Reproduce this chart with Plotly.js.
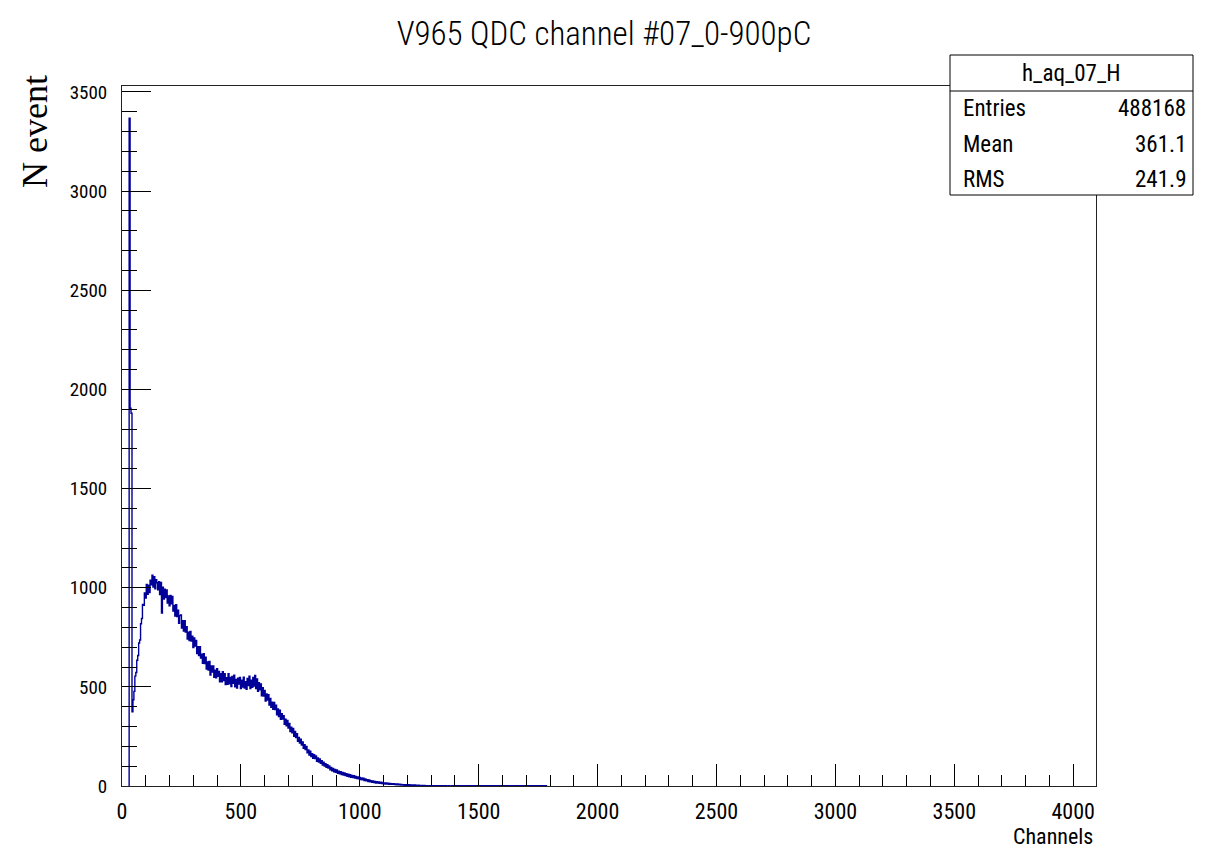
<!DOCTYPE html>
<html>
<head>
<meta charset="utf-8">
<script src="https://cdn.plot.ly/plotly-3.0.1.min.js"></script>
<style>
  html, body { margin: 0; padding: 0; background: #fff; }
  #plot { width: 1208px; height: 850px; }
</style>
</head>
<body>
<div id="plot"></div>
<script>
// QDC spectrum, channel 07 (0-900 pC range): counts sampled every 4 channels
const binStart = 28;
const binWidth = 4;
const counts = [
  0, 3367, 1905, 1880, 374, 435, 477, 554,
  572, 634, 658, 721, 736, 818, 845, 915,
  911, 974, 948, 1016, 967, 1013, 975, 1038,
  1014, 1063, 1003, 1055, 994, 1040, 1025, 989,
  1030, 966, 1027, 872, 1002, 943, 993, 950,
  989, 923, 959, 909, 961, 919, 956, 882,
  911, 857, 914, 854, 886, 821, 859, 863,
  796, 834, 782, 833, 776, 803, 741, 775,
  733, 780, 731, 756, 698, 747, 706, 734,
  668, 702, 658, 703, 645, 665, 619, 667,
  617, 649, 590, 625, 585, 628, 560, 606,
  575, 605, 548, 584, 546, 591, 553, 578,
  525, 566, 526, 576, 532, 566, 512, 546,
  513, 566, 516, 548, 502, 553, 518, 559,
  500, 537, 494, 543, 514, 547, 492, 534,
  499, 549, 494, 526, 488, 542, 506, 554,
  492, 534, 498, 548, 504, 557, 491, 540,
  478, 521, 485, 514, 455, 496, 454, 482,
  429, 464, 434, 460, 408, 441, 397, 423,
  387, 421, 385, 407, 359, 388, 350, 382,
  336, 364, 337, 355, 311, 337, 303, 330,
  292, 316, 275, 297, 268, 290, 251, 275,
  244, 264, 226, 245, 216, 236, 206, 222,
  190, 208, 184, 200, 168, 182, 156, 175,
  149, 163, 140, 158, 138, 151, 125, 142,
  121, 136, 115, 128, 106, 120, 101, 112,
  94, 108, 91, 101, 82, 93, 77, 89,
  72, 83, 69, 81, 64, 75, 62, 72,
  58, 68, 55, 66, 53, 62, 49, 59,
  47, 57, 44, 53, 42, 52, 40, 48,
  37, 46, 36, 43, 33, 40, 31, 39,
  27, 35, 26, 32, 23, 30, 21, 27,
  19, 25, 18, 23, 15, 22, 15, 20,
  13, 19, 12, 18, 11, 16, 10, 16,
  10, 14, 9, 13, 8, 12, 8, 11,
  7, 10, 6, 10, 6, 9, 5, 8,
  5, 7, 4, 7, 4, 6, 3, 6,
  3, 5, 3, 5, 2, 5, 2, 4,
  2, 4, 1, 3, 2, 3, 1, 3,
  1, 2, 1, 2, 0, 2, 1, 1,
  2, 0, 1, 1, 0, 2, 0, 1,
  0, 1, 1, 0, 1, 0, 1, 0,
  0, 1, 0
];
// isolated single counts further out
const tailChannels = [1396, 1420, 1444, 1468, 1500, 1788];
const tailCounts   = [1, 1, 1, 1, 1, 1];

// statistics box contents
const histName = 'h_aq_07_H';
const statLabels = ['Entries', 'Mean', 'RMS'];
const statValues = ['488168', '361.1', '241.9'];

const titleText = 'V965 QDC channel #07_0-900pC';
const xTitleText = 'Channels';
const yTitleText = 'N event';

const channels = counts.map((_, i) => binStart + i * binWidth).concat(tailChannels);
const values = counts.concat(tailCounts);

const sans = '"Roboto Condensed", "DejaVu Sans Condensed", "Liberation Sans", sans-serif';
const serif = '"Liberation Serif", "Times New Roman", serif';

// plot frame in page pixels
const frameL = 122, frameT = 86, frameW = 974, frameH = 700;
const px = x => (x - frameL) / frameW;
const py = y => (frameT + frameH - y) / frameH;

const trace = {
  type: 'scatter',
  mode: 'lines',
  x: channels,
  y: values,
  line: { color: '#000099', width: 1.4, shape: 'hvh' },
  hoverinfo: 'skip'
};

const boxL = 950, boxR = 1193, boxT = 55, boxB = 195, boxSep = 91;
const rowY = [108, 144, 179];

const shapes = [
  { type: 'rect', xref: 'paper', yref: 'paper', layer: 'above',
    x0: px(boxL), x1: px(boxR), y0: py(boxB), y1: py(boxT),
    line: { color: '#000', width: 1 }, fillcolor: '#fff' },
  { type: 'line', xref: 'paper', yref: 'paper', layer: 'above',
    x0: px(boxL), x1: px(boxR), y0: py(boxSep), y1: py(boxSep),
    line: { color: '#000', width: 1 } }
];

const sansFont = (size, weight) => ({ family: sans, size: size, color: '#000', weight: weight || 400 });

const annotations = [
  { xref: 'paper', yref: 'paper', x: px((boxL + boxR) / 2), y: py(73),
    xanchor: 'center', yanchor: 'middle', showarrow: false,
    text: histName, font: sansFont(23) },
  { xref: 'paper', yref: 'paper', x: px(1095), y: py(836),
    xanchor: 'right', yanchor: 'middle', showarrow: false,
    text: xTitleText, font: sansFont(22) },
  { xref: 'paper', yref: 'paper', x: px(35), y: py(132),
    xanchor: 'center', yanchor: 'middle', showarrow: false, textangle: -90,
    text: yTitleText, font: { family: serif, size: 36, color: '#000' } }
];
statLabels.forEach((lab, i) => {
  annotations.push({ xref: 'paper', yref: 'paper', x: px(961), y: py(rowY[i]),
    xanchor: 'left', yanchor: 'middle', showarrow: false,
    text: lab, font: sansFont(23) });
  annotations.push({ xref: 'paper', yref: 'paper', x: px(1188), y: py(rowY[i]),
    xanchor: 'right', yanchor: 'middle', showarrow: false,
    text: statValues[i], font: sansFont(23) });
});

const layout = {
  width: 1208,
  height: 850,
  margin: { l: frameL, r: 1208 - frameL - frameW, t: frameT, b: 850 - frameT - frameH, pad: 0 },
  paper_bgcolor: '#fff',
  plot_bgcolor: '#fff',
  showlegend: false,
  title: {
    text: titleText,
    font: sansFont(33, 300),
    xref: 'container', yref: 'container', x: 0.5, y: 1 - 33 / 850,
    xanchor: 'center', yanchor: 'middle'
  },
  xaxis: {
    range: [0, 4096],
    tickmode: 'linear', tick0: 0, dtick: 500,
    ticks: 'inside', ticklen: 22, tickwidth: 1, tickcolor: '#000',
    minor: { tick0: 0, dtick: 100, ticks: 'inside', ticklen: 11, tickwidth: 1, tickcolor: '#000', showgrid: false },
    showline: true, linecolor: '#222', linewidth: 1, mirror: true,
    showgrid: false, zeroline: false,
    ticklabelstandoff: 6,
    tickfont: sansFont(22)
  },
  yaxis: {
    range: [0, 3530],
    tickmode: 'linear', tick0: 0, dtick: 500,
    ticks: 'inside', ticklen: 29, tickwidth: 1, tickcolor: '#000',
    minor: { tick0: 0, dtick: 100, ticks: 'inside', ticklen: 15, tickwidth: 1, tickcolor: '#000', showgrid: false },
    showline: true, linecolor: '#222', linewidth: 1, mirror: true,
    showgrid: false, zeroline: false,
    ticklabelstandoff: 10,
    tickfont: sansFont(19)
  },
  shapes: shapes,
  annotations: annotations
};

Plotly.newPlot('plot', [trace], layout, { staticPlot: true, displayModeBar: false });
</script>
</body>
</html>
